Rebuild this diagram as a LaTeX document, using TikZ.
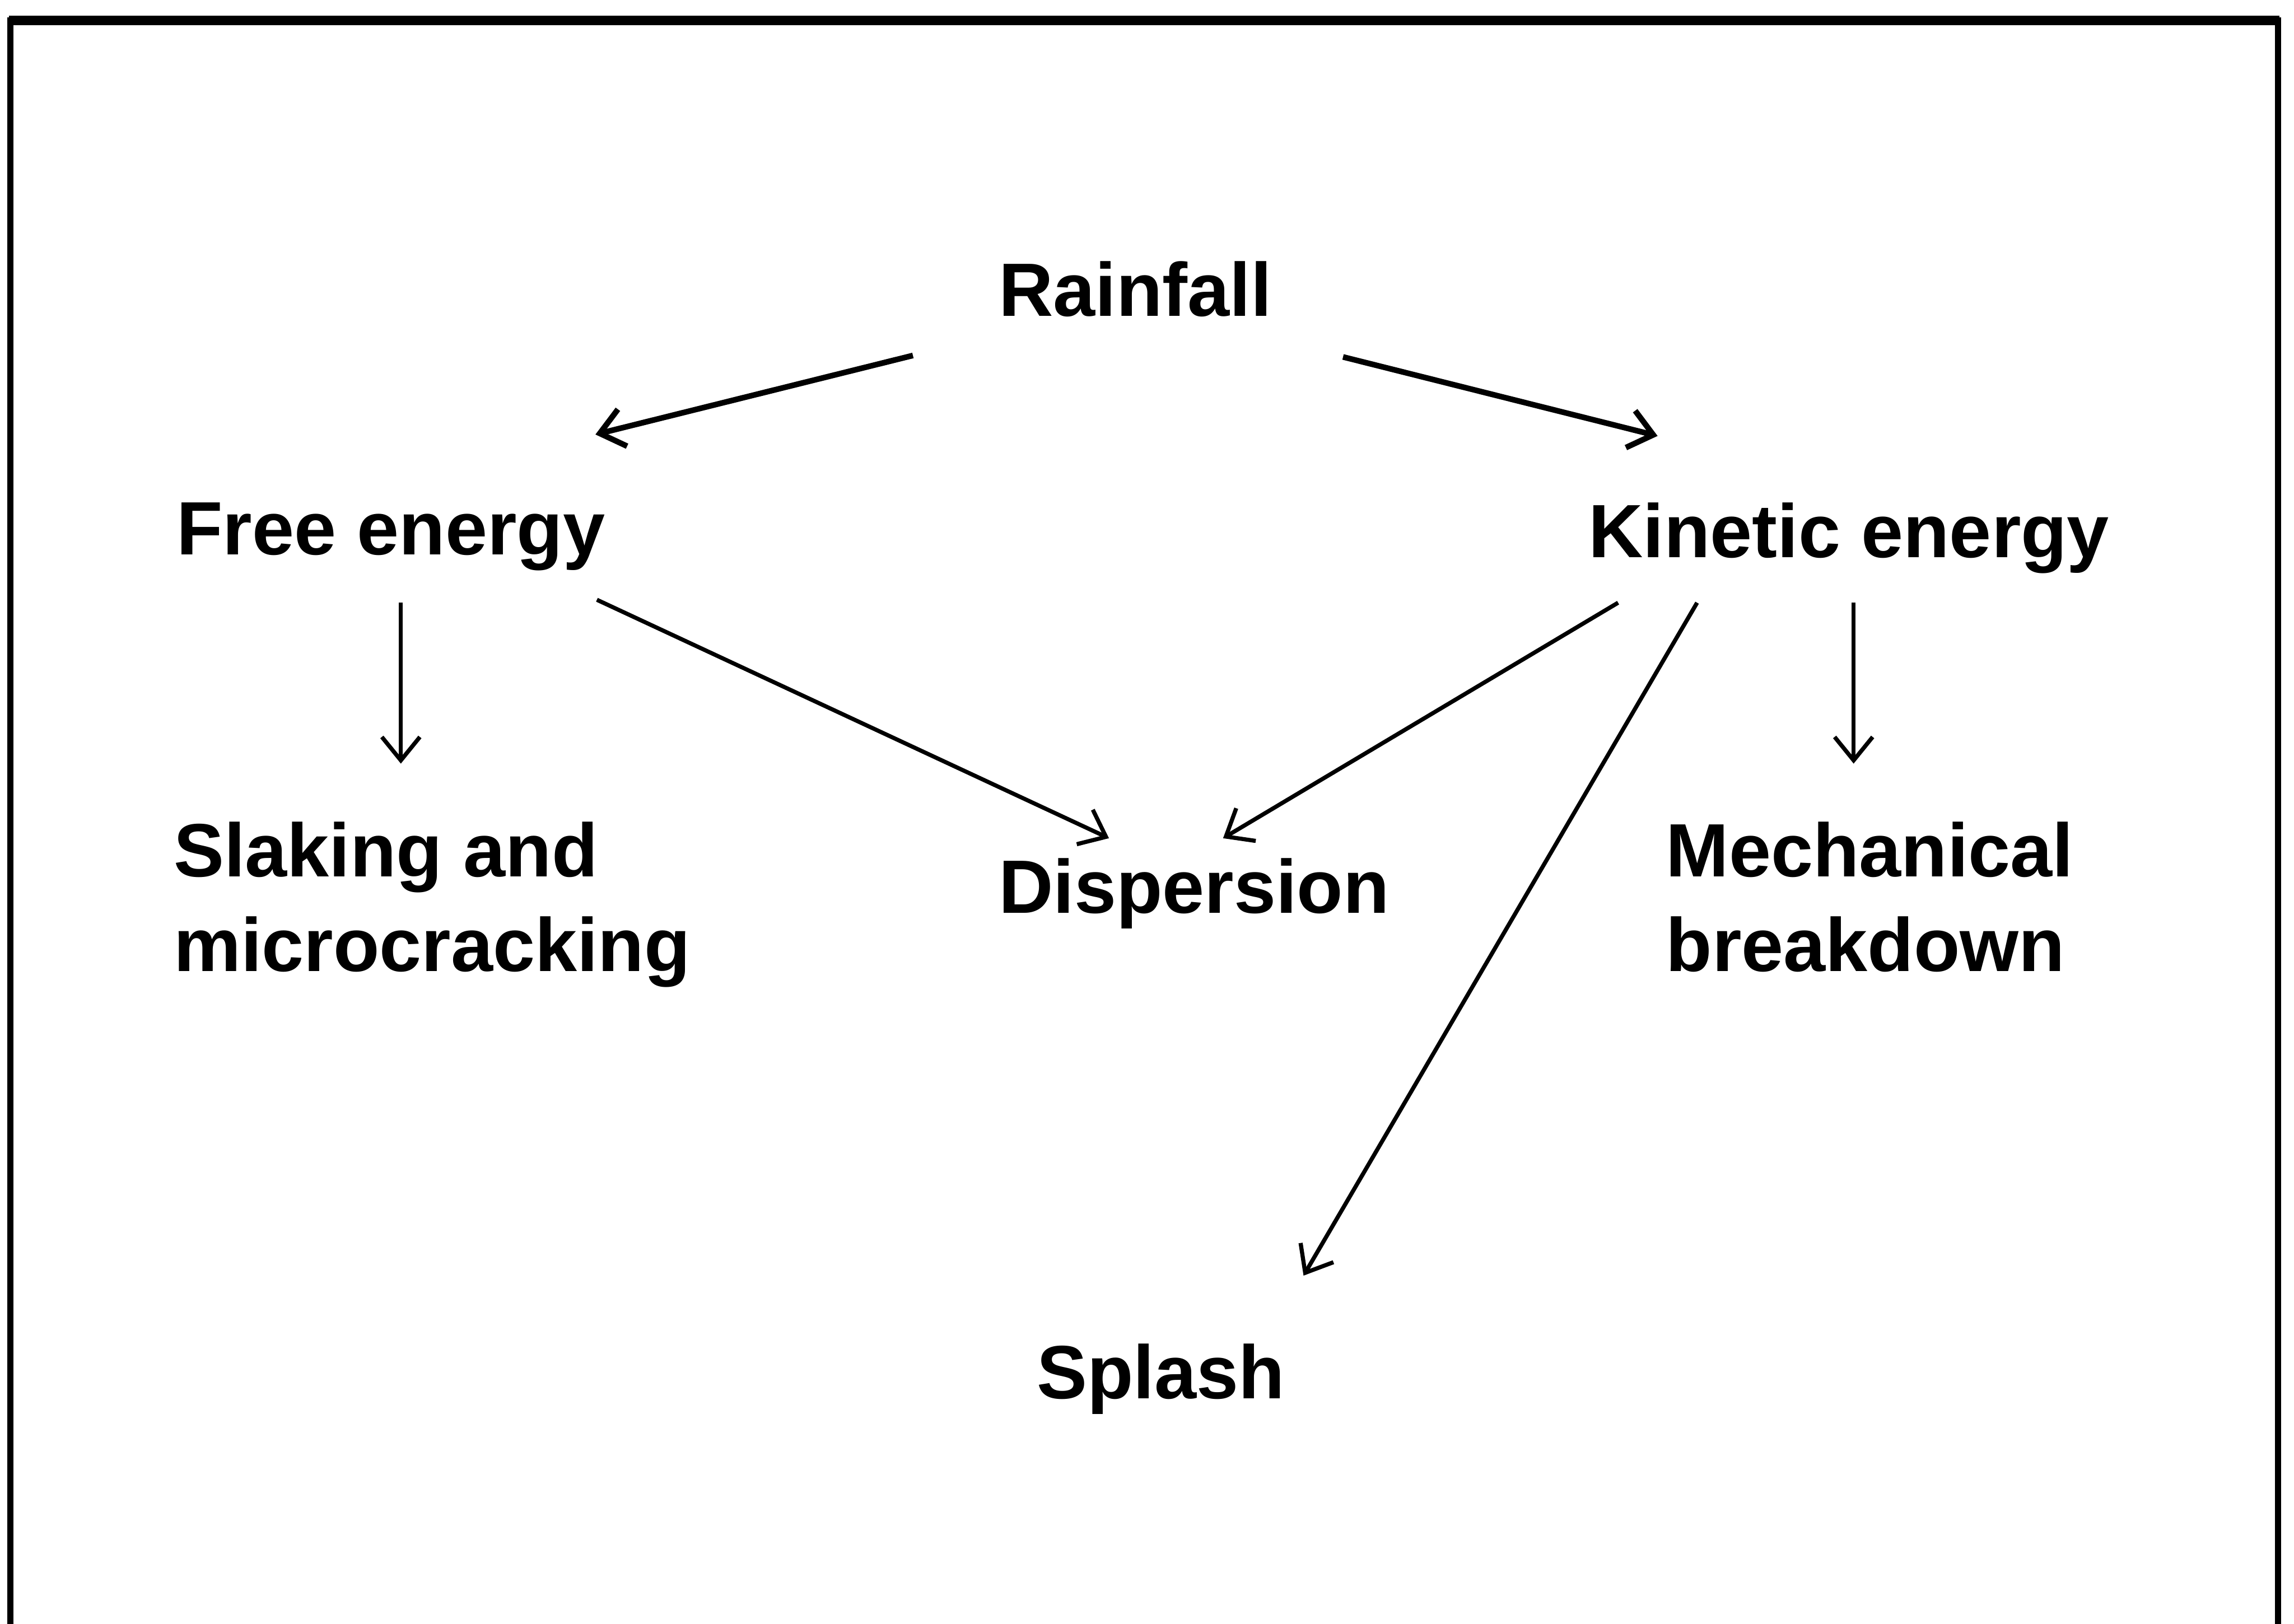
\documentclass[tikz,border=0pt]{standalone}
\usepackage{fontspec}
\setmainfont{Liberation Sans}
\usepackage{tikz}
\usetikzlibrary{arrows.meta}

\tikzset{
  lbl/.style={anchor=north west, inner sep=0pt, align=left,
    font=\bfseries\fontsize{14.7}{18.5}\selectfont},
  flow/.style={-{Straight Barb[length=1.6mm,width=2.6mm]}, line width=0.8pt},
  heavy/.style={flow, line width=1.1pt},
}

\begin{document}
\begin{tikzpicture}[x=0.1mm,y=-0.1mm]
\useasboundingbox (0,0) rectangle (1568,1110);
% frame, open at the bottom
\draw[line width=1.2pt] (7,1130) -- (7,14) -- (1557,14) -- (1557,1130);
\draw[line width=1.8pt] (6,14) -- (1558,14);

\node[lbl] (rain) at (682,178) {Rainfall};
\node[lbl] (free) at (120,343) {Free energy};
\node[lbl] (kin) at (1085,343) {Kinetic energy};
\node[lbl] (slak) at (118,561) {Slaking and\\microcracking};
\node[lbl] (disp) at (682,586) {Dispersion};
\node[lbl] (mech) at (1138,561) {Mechanical\\breakdown};
\node[lbl] (splash) at (708,918) {Splash};

\draw[heavy] ([shift={(-58,65)}]rain.north west) -- ([shift={(287,-46)}]free.north west);
\draw[heavy] ([shift={(236,66)}]rain.north west) -- ([shift={(48,-45)}]kin.north west);
\draw[flow] ([shift={(154,69)}]free.north west) -- ([shift={(156,-39)}]slak.north west);
\draw[flow] ([shift={(288,67)}]free.north west) -- ([shift={(76,-13)}]disp.north west);
\draw[flow] ([shift={(21,69)}]kin.north west) -- ([shift={(154,-13)}]disp.north west);
\draw[flow] ([shift={(75,69)}]kin.north west) -- ([shift={(183,-46)}]splash.north west);
\draw[flow] ([shift={(182,69)}]kin.north west) -- ([shift={(129,-39)}]mech.north west);
\end{tikzpicture}
\end{document}
